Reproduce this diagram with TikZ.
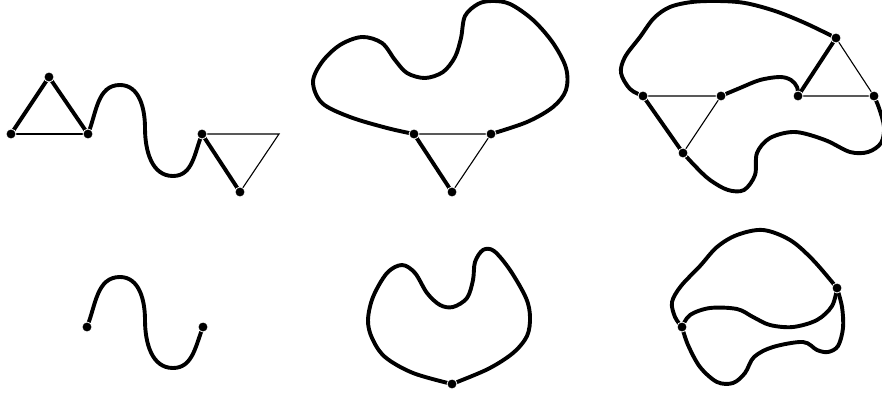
\documentclass[tikz,border=0pt]{standalone}
\begin{document}
\begin{tikzpicture}[x=1pt,y=-1pt,
  dot/.style={circle,fill=black,draw=white,line width=0.8pt,inner sep=0pt,minimum size=10pt},
  thickline/.style={line width=3.9pt,line cap=round,line join=round},
  thinline/.style={line width=1.1pt},
  sm/.style={smooth,tension=0.55}]
\useasboundingbox (0,0) rectangle (882,396);
\clip (0,0) rectangle (882,396);

% ---------- positions ----------
\coordinate (a1) at (11,134);
\coordinate (a2) at (49,77);
\coordinate (a3) at (88,134);
\coordinate (a4) at (202,134);
\coordinate (a5) at (240,192);
\coordinate (a6) at (279,134);

\coordinate (b1) at (414,134);
\coordinate (b2) at (491,134);
\coordinate (b3) at (452,192);

\coordinate (c1) at (643,96);
\coordinate (c2) at (721,96);
\coordinate (c3) at (798,96);
\coordinate (c4) at (874,96);
\coordinate (c5) at (836,38);
\coordinate (c6) at (683,153);

\coordinate (d1) at (87,327);
\coordinate (d2) at (203,327);

\coordinate (e1) at (452,384);

\coordinate (f1) at (682,327);
\coordinate (f2) at (837,288);

% ---------- top left ----------
\draw[thinline] (a1) -- (a3);
\draw[thinline] (a4) -- (a6) -- (a5);
\draw[thickline] (a1) -- (a2) -- (a3);
\draw[thickline] (a4) -- (a5);
\draw[thickline] (a3) to[out=68,in=180] (120,85) to[out=0,in=90] (145,128)
  to[out=-90,in=180] (173,176) to[out=0,in=-112] (a4);

% ---------- top middle ----------
\draw[thinline] (b1) -- (b2) -- (b3);
\draw[thickline] (b1) -- (b3);
\draw[thickline] plot[sm] coordinates {(b1) (387,128) (350,117) (322,103) (313,82) (322,62) (340,45) (362,37) (382,43) (395,60) (407,73) (425,78) (443,72) (455,57) (461,38) (465,16) (478,4) (492,1) (510,4) (533,20) (553,43) (566,68) (566,90) (553,107) (527,122) (b2)};

% ---------- top right ----------
\draw[thinline] (c1) -- (c2) -- (c6);
\draw[thinline] (c3) -- (c4) -- (c5);
\draw[thickline] (c1) -- (c6);
\draw[thickline] (c5) -- (c3);
\draw[thickline] plot[sm] coordinates {(c1) (630,89) (621,73) (625,57) (640,37) (654,18) (670,7) (692,2) (718,1) (745,3) (775,11) (805,23) (c5)};
\draw[thickline] plot[sm] coordinates {(c3) (797,87) (791,80) (780,77) (760,80) (740,88) (c2)};
\draw[thickline] plot[sm] coordinates {(c4) (879,108) (884,127) (881,143) (868,152) (850,152) (825,140) (795,132) (770,138) (757,153) (755,175) (744,190) (728,190) (710,180) (696,167) (c6)};

% ---------- bottom left ----------
\draw[thickline] (d1) to[out=68,in=180] (120,277) to[out=0,in=90] (145,320)
  to[out=-90,in=180] (173,368) to[out=0,in=-112] (d2);

% ---------- bottom middle ----------
\draw[thickline] plot[sm] coordinates {(e1) (488,369) (513,353) (527,336) (530,317) (526,298) (510,270) (494,251) (483,250) (475,262) (473,280) (467,298) (453,307) (440,305) (427,293) (415,273) (402,265) (387,273) (373,297) (368,320) (372,338) (385,357) (413,373) (e1)};

% ---------- bottom right ----------
\draw[thickline] plot[sm] coordinates {(f1) (675,317) (672,302) (681,286) (700,266) (717,247) (737,235) (763,230) (790,240) (813,260) (f2)};
\draw[thickline] plot[sm] coordinates {(f1) (690,315) (710,308) (737,309) (753,317) (770,325) (793,327) (817,320) (832,306) (f2)};
\draw[thickline] plot[sm] coordinates {(f1) (688,345) (700,367) (717,382) (733,383) (745,373) (754,357) (773,347) (803,342) (817,350) (828,352) (838,346) (843,328) (842,307) (f2)};

% ---------- dots ----------
\foreach \p in {a1,a2,a3,a4,a5,b1,b2,b3,c1,c2,c3,c4,c5,c6,d1,d2,e1,f1,f2}
  \node[dot] (n\p) at (\p) {};
\end{tikzpicture}
\end{document}
